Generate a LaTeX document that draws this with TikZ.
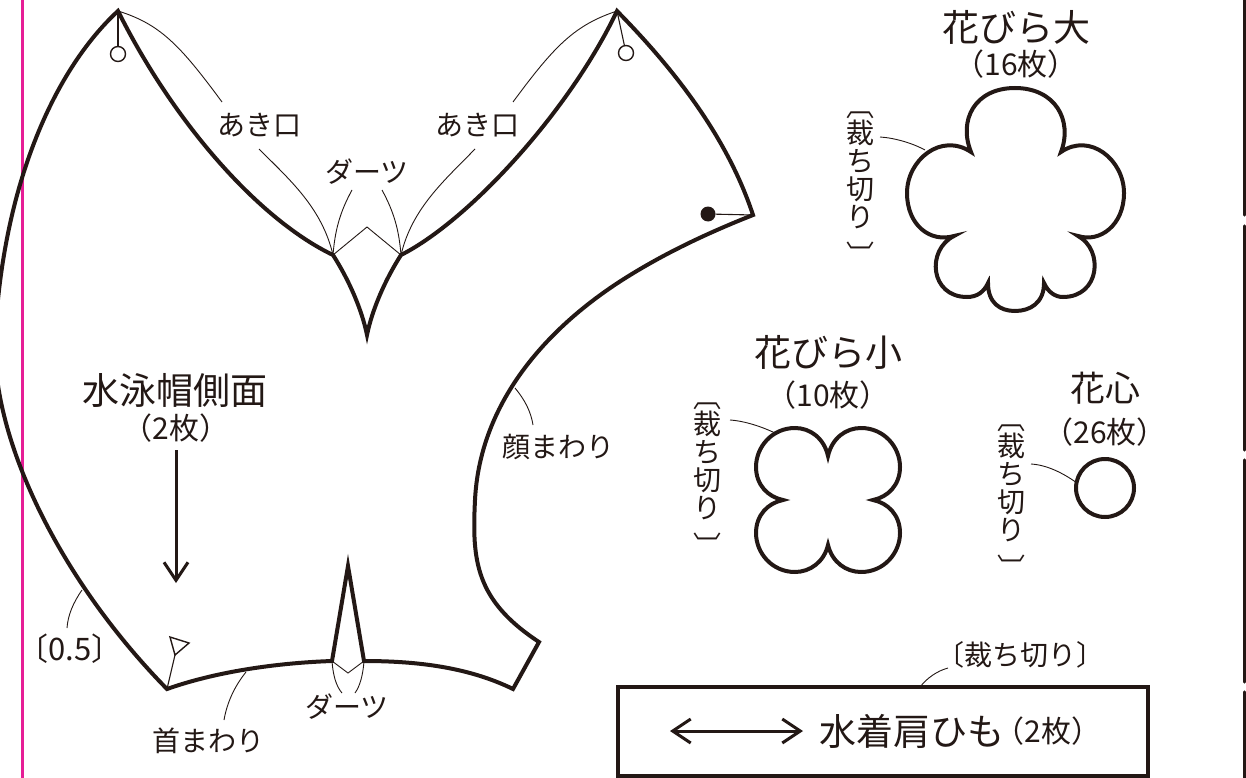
\documentclass[tikz,border=0pt]{standalone}
\usepackage{fontspec}
\setmainfont{Noto Sans CJK JP}
\usetikzlibrary{arrows.meta}
\definecolor{inkblack}{RGB}{35,24,21}
\definecolor{trimpink}{RGB}{230,30,150}
\newcommand{\fs}[1]{\fontsize{#1}{#1}\selectfont}
\newcommand{\cutlabel}{\fs{28}\baselineskip=29.5pt ︹\\[-1pt]裁\\ち\\切\\り\\[10pt]︺}
\begin{document}
\begin{tikzpicture}[x=1pt,y=-1pt,
    every node/.style={text=inkblack, inner sep=0pt},
    cutline/.style={draw=inkblack, line width=4pt, line join=miter},
    leader/.style={draw=inkblack, line width=0.9pt},
    grain/.style={draw=inkblack, line width=3pt, >={Straight Barb[length=18pt,width=24pt]}},
    small/.style={font=\fs{28}},
    count/.style={font=\fs{30}},
    big/.style={font=\fs{37}},
    vert/.style={align=center, font=\fs{28}}]
  \useasboundingbox (0,0) rectangle (1246,778);

  % Trim line and page edge
  \draw[trimpink, line width=2.6pt] (22.5,0) -- (22.5,778);
  \foreach \a/\b in {-5/215,226/450,460/682,692/783}
    \draw[inkblack, line width=3.4pt, line cap=round] (1244.5,\a) -- (1244.5,\b);

  % Corners of the side panel
  \coordinate (peakL) at (118,11);
  \coordinate (peakR) at (617,11);
  \coordinate (wing) at (753,215);
  \coordinate (dartL) at (333,255);
  \coordinate (dartR) at (401,255);
  \coordinate (dartTip) at (367,335);
  \coordinate (dartFold) at (367,227);
  \coordinate (neckL) at (167,689);
  \coordinate (neckR) at (513,689);
  \coordinate (chin) at (539,642);
  \coordinate (lowL) at (332,661);
  \coordinate (lowR) at (364,661);
  \coordinate (lowTip) at (348,566);
  \coordinate (lowFold) at (348,673);

  % Side panel
  \draw[cutline] (peakL)
    .. controls (52,72) and (2,190) .. (-5,340)
    .. controls (-8,440) and (60,580) .. (neckL)
    .. controls (215,672) and (275,663) .. (lowL)
    -- (lowTip) -- (lowR)
    .. controls (420,661) and (470,668) .. (neckR)
    -- (chin)
    .. controls (475,600) and (472,560) .. (475,500)
    .. controls (480,400) and (550,325) .. (627,277)
    .. controls (667,252) and (710,232) .. (wing)
    .. controls (725,130) and (665,60) .. (peakR)
    .. controls (570,110) and (470,220) .. (dartR)
    .. controls (385,280) and (372,310) .. (dartTip)
    .. controls (362,310) and (349,280) .. (dartL)
    .. controls (260,220) and (175,125) .. (peakL) -- cycle;

  % Fold lines of the darts
  \draw[leader] (dartL) -- (dartFold) -- (dartR);
  \draw[leader] (lowL) -- (lowFold) -- (lowR);

  % Marks
  \node[circle, draw=inkblack, line width=1.4pt, minimum size=15pt] (holeL) at (118,54) {};
  \node[circle, draw=inkblack, line width=1.4pt, minimum size=15pt] (holeR) at (626,53) {};
  \node[circle, fill=inkblack, minimum size=15pt] (dotW) at (708,214) {};
  \draw[leader, line width=1.1pt] (peakL) -- (holeL);
  \draw[leader, line width=1.1pt] (peakR) -- (holeR);
  \draw[leader, line width=1.1pt] (dotW) -- (wing);
  \coordinate (triTail) at (175,655);
  \draw[draw=inkblack, line width=1.4pt, line join=miter] (170,637) -- (189,643) -- (triTail) -- cycle;
  \draw[leader, line width=1.1pt] (neckL) -- (triTail);

  % Labels
  \node[small] (openL) at (259,125) {あき口};
  \node[small] (openR) at (477,125) {あき口};
  \node[small] (dartTop) at (367,172) {ダーツ};
  \node[small] (dartBot) at (347,707) {ダーツ};
  \node[small] (face) at (558,447) {顔まわり};
  \node[small] (neck) at (208,741) {首まわり};
  \node[small, font=\fs{31}] (seam) at (70,649) {〔0.5〕};
  \node[big] (capT) at (175,390) {水泳帽側面};
  \node[count] (capN) at (176,428) {（2枚）};

  % Leaders
  \draw[leader] (peakL) .. controls (160,24) and (180,45) .. (222,102);
  \draw[leader] (259,149) .. controls (290,180) and (322,208) .. (dartL);
  \draw[leader] (peakR) .. controls (575,25) and (555,45) .. (513,102);
  \draw[leader] (475,149) .. controls (445,180) and (412,208) .. (dartR);
  \draw[leader] (352,190) .. controls (340,212) and (335,230) .. (dartL);
  \draw[leader] (382,190) .. controls (394,212) and (399,230) .. (dartR);
  \draw[leader] (lowL) .. controls (333,675) and (336,686) .. (342,693);
  \draw[leader] (lowR) .. controls (363,675) and (360,686) .. (355,693);
  \draw[leader] (515,388) .. controls (525,400) and (531,412) .. (533,425);
  \draw[leader] (82,590) .. controls (73,603) and (68,615) .. (67,628);
  \draw[leader] (246,672) .. controls (234,687) and (227,703) .. (224,720);

  % Grain arrow
  \draw[grain, ->] (176,450) -- (176,583);

  % Large petal
  \node[big] (bigT) at (1016,27) {花びら大};
  \node[count] (bigN) at (1016,64) {（16枚）};
  \draw[cutline] (971,152)
    .. controls (958,120) and (975,88) .. (1015,88)
    .. controls (1055,88) and (1073,120) .. (1061,152)
    .. controls (1090,132) and (1124,160) .. (1124,193)
    .. controls (1124,225) and (1100,243) .. (1078,236)
    .. controls (1104,250) and (1100,297) .. (1063,297)
    .. controls (1055,297) and (1048,292) .. (1044,283)
    .. controls (1044,303) and (1030,311) .. (1015,311)
    .. controls (1000,311) and (988,303) .. (988,283)
    .. controls (984,292) and (977,297) .. (967,297)
    .. controls (930,297) and (926,250) .. (954,236)
    .. controls (930,243) and (907,225) .. (907,193)
    .. controls (907,160) and (941,132) .. (971,152) -- cycle;
  \node[vert] (bigC) at (860,189) {\cutlabel};
  \draw[leader] (880,137) .. controls (895,138) and (912,143) .. (925,150);

  % Small petal
  \node[big] (smallT) at (828,352) {花びら小};
  \node[count] (smallN) at (828,395) {（10枚）};
  \draw[cutline] (828,456)
    .. controls (824,438) and (810,428) .. (795,428)
    .. controls (772,428) and (756,447) .. (756,467)
    .. controls (756,485) and (768,497) .. (783,500)
    .. controls (768,503) and (756,515) .. (756,533)
    .. controls (756,553) and (772,572) .. (795,572)
    .. controls (810,572) and (824,562) .. (828,545)
    .. controls (832,562) and (846,572) .. (861,572)
    .. controls (884,572) and (900,553) .. (900,533)
    .. controls (900,515) and (888,503) .. (873,500)
    .. controls (888,497) and (900,485) .. (900,467)
    .. controls (900,447) and (884,428) .. (861,428)
    .. controls (846,428) and (832,438) .. (828,456) -- cycle;
  \node[vert] (smallC) at (707,480) {\cutlabel};
  \draw[leader] (730,420) .. controls (745,421) and (763,427) .. (777,434);

  % Flower centre
  \node[big, font=\fs{35}] (coreT) at (1105,388) {花心};
  \node[count] (coreN) at (1105,432) {（26枚）};
  \node[circle, draw=inkblack, line width=4pt, minimum size=58pt] (core) at (1105,488) {};
  \node[vert] (coreC) at (1011,502) {\cutlabel};
  \draw[leader] (1031,464) .. controls (1047,465) and (1063,473) .. (1077,483);

  % Strap
  \node[rectangle, draw=inkblack, line width=4pt, minimum width=530pt, minimum height=89pt] (strap) at (883,731.5) {};
  \node[big] (strapT) at (912,731) {水着肩ひも};
  \node[count] (strapN) at (1048,731) {（2枚）};
  \coordinate (arrowL) at (670,731);
  \coordinate (arrowR) at (803,731);
  \draw[grain, <->] (arrowL) -- (arrowR);
  \node[small] (strapC) at (1020,655) {〔裁ち切り〕};
  \draw[leader] (920,687) .. controls (927,678) and (937,671) .. (948,668);
\end{tikzpicture}
\end{document}
